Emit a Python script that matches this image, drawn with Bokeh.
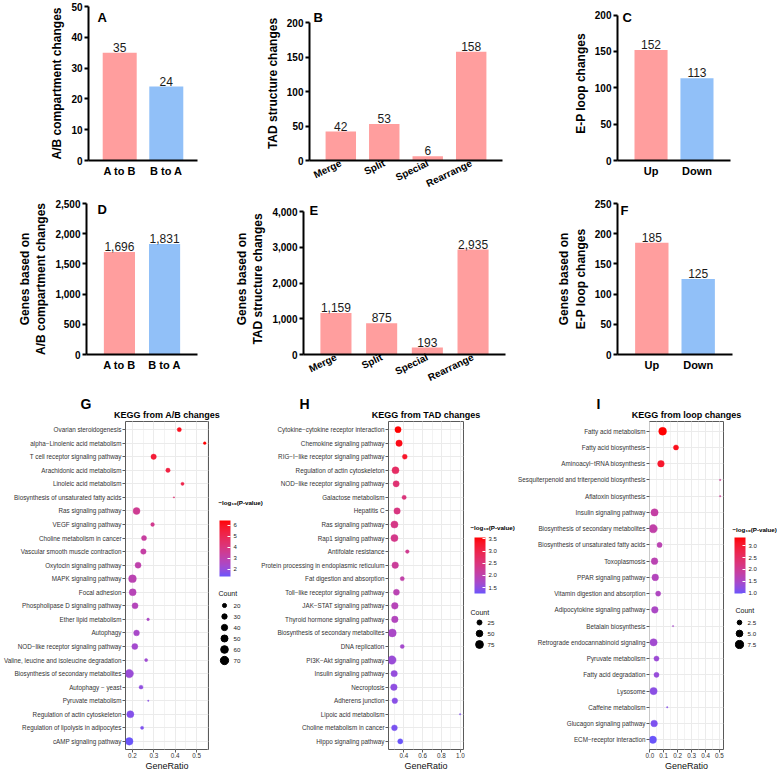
import numpy as np
from bokeh.plotting import figure
from bokeh.layouts import row, column
from bokeh.models import (ColumnDataSource, FactorRange, Range1d, ColorBar, GridBox,
                          LinearColorMapper, FixedTicker, SingleIntervalTicker,
                          NumeralTickFormatter, PrintfTickFormatter)
from bokeh.core.properties import value
from bokeh.embed import file_html
from bokeh.resources import INLINE

FONT = "Liberation Sans"
PINK = "#FF9E9E"
BLUE = "#91C0F8"

# ---------------- data: bar panels ----------------
ab_cats = ["A to B", "B to A"]
ab_compartments = [35, 24]
tad_cats = ["Merge", "Split", "Special", "Rearrange"]
tad_changes = [42, 53, 6, 158]
loop_cats = ["Up", "Down"]
loop_changes = [152, 113]
ab_genes = [1696, 1831]
tad_genes = [1159, 875, 193, 2935]
loop_genes = [185, 125]
panel_letters = ["A", "B", "C", "D", "E", "F"]

# ---------------- data: KEGG from A/B changes ----------------
g_terms = ["Ovarian steroidogenesis", "alpha\u2212Linolenic acid metabolism",
           "T cell receptor signaling pathway", "Arachidonic acid metabolism",
           "Linoleic acid metabolism", "Biosynthesis of unsaturated fatty acids",
           "Ras signaling pathway", "VEGF signaling pathway", "Choline metabolism in cancer",
           "Vascular smooth muscle contraction", "Oxytocin signaling pathway",
           "MAPK signaling pathway", "Focal adhesion", "Phospholipase D signaling pathway",
           "Ether lipid metabolism", "Autophagy", "NOD\u2212like receptor signaling pathway",
           "Valine, leucine and isoleucine degradation", "Biosynthesis of secondary metabolites",
           "Autophagy \u2212 yeast", "Pyruvate metabolism", "Regulation of actin cytoskeleton",
           "Regulation of lipolysis in adipocytes", "cAMP signaling pathway"]
g_ratio = [0.419, 0.538, 0.299, 0.366, 0.434, 0.394, 0.219, 0.294, 0.254, 0.251, 0.226, 0.200,
           0.201, 0.212, 0.273, 0.219, 0.211, 0.264, 0.185, 0.240, 0.274, 0.190, 0.245, 0.185]
g_count = [21, 13, 31, 22, 15, 11, 50, 18, 28, 32, 38, 62, 50, 38, 13, 35, 38, 15, 72, 19, 11, 52, 15, 58]
g_logp = [6.10, 6.45, 5.60, 5.40, 5.20, 4.30, 3.60, 3.70, 3.30, 3.20, 3.05, 2.90, 2.80, 2.70,
          2.50, 2.40, 2.30, 2.20, 2.10, 1.90, 1.80, 1.70, 1.60, 1.36]
g_color_ticks = [2, 3, 4, 5, 6]
g_count_breaks = [20, 30, 40, 50, 60, 70]

# ---------------- data: KEGG from TAD changes ----------------
h_terms = ["Cytokine\u2212cytokine receptor interaction", "Chemokine signaling pathway",
           "RIG\u2212I\u2212like receptor signaling pathway", "Regulation of actin cytoskeleton",
           "NOD\u2212like receptor signaling pathway", "Galactose metabolism", "Hepatitis C",
           "Ras signaling pathway", "Rap1 signaling pathway", "Antifolate resistance",
           "Protein processing in endoplasmic reticulum", "Fat digestion and absorption",
           "Toll\u2212like receptor signaling pathway", "JAK\u2212STAT signaling pathway",
           "Thyroid hormone signaling pathway", "Biosynthesis of secondary metabolites",
           "DNA replication", "PI3K\u2212Akt signaling pathway", "Insulin signaling pathway",
           "Necroptosis", "Adherens junction", "Lipoic acid metabolism",
           "Choline metabolism in cancer", "Hippo signaling pathway"]
h_ratio = [0.338, 0.349, 0.410, 0.311, 0.318, 0.403, 0.328, 0.300, 0.300, 0.437, 0.308, 0.383,
           0.321, 0.304, 0.304, 0.277, 0.383, 0.273, 0.297, 0.294, 0.304, 0.998, 0.300, 0.362]
h_count = [45, 48, 25, 60, 45, 18, 48, 62, 62, 12, 50, 17, 42, 52, 50, 80, 16, 90, 48, 50, 35, 3, 38, 28]
h_logp = [3.56, 3.45, 3.30, 2.75, 2.60, 2.50, 2.45, 2.40, 2.35, 2.30, 2.20, 2.05, 1.95, 1.90,
          1.85, 1.75, 1.70, 1.60, 1.55, 1.50, 1.45, 1.40, 1.35, 1.26]
h_color_ticks = [1.5, 2.0, 2.5, 3.0, 3.5]
h_count_breaks = [25, 50, 75]

# ---------------- data: KEGG from loop changes ----------------
i_terms = ["Fatty acid metabolism", "Fatty acid biosynthesis", "Aminoacyl\u2212tRNA biosynthesis",
           "Sesquiterpenoid and triterpenoid biosynthesis", "Aflatoxin biosynthesis",
           "Insulin signaling pathway", "Biosynthesis of secondary metabolites",
           "Biosynthesis of unsaturated fatty acids", "Toxoplasmosis", "PPAR signaling pathway",
           "Vitamin digestion and absorption", "Adipocytokine signaling pathway",
           "Betalain biosynthesis", "Retrograde endocannabinoid signaling", "Pyruvate metabolism",
           "Fatty acid degradation", "Lysosome", "Caffeine metabolism",
           "Glucagon signaling pathway", "ECM\u2212receptor interaction"]
i_ratio = [0.092, 0.188, 0.080, 0.505, 0.505, 0.034, 0.024, 0.070, 0.034, 0.039, 0.060, 0.036,
           0.167, 0.027, 0.048, 0.048, 0.027, 0.125, 0.031, 0.022]
i_count = [7, 3, 5, 1, 1, 6, 8, 3, 5, 5, 3, 5, 1, 6, 3, 3, 6, 1, 5, 6]
i_logp = [3.35, 3.20, 3.05, 2.00, 2.00, 1.85, 1.80, 1.70, 1.70, 1.60, 1.55, 1.50, 1.45, 1.40,
          1.35, 1.30, 1.20, 1.15, 1.10, 0.98]
i_color_ticks = [1.0, 1.5, 2.0, 2.5, 3.0]
i_count_breaks = [2.5, 5.0, 7.5]
kegg_letters = ["G", "H", "I"]
color_title = "\u2212log\u2081\u2080(P-value)"


# ---------------- colour gradient (Lab interpolation, like ggplot) ----------------
def _hex(h):
    return np.array([int(h[i:i + 2], 16) for i in (1, 3, 5)]) / 255.0

_M = np.array([[0.4124564, 0.3575761, 0.1804375],
               [0.2126729, 0.7151522, 0.0721750],
               [0.0193339, 0.1191920, 0.9503041]])
_Mi = np.linalg.inv(_M)
_WP = np.array([0.95047, 1.0, 1.08883])

def _lin(c):
    return np.where(c <= 0.04045, c / 12.92, ((c + 0.055) / 1.055) ** 2.4)

def _delin(c):
    c = np.clip(c, 0, 1)
    return np.where(c <= 0.0031308, 12.92 * c, 1.055 * np.power(c, 1 / 2.4) - 0.055)

def _f(t):
    d = 6 / 29
    return np.where(t > d ** 3, np.cbrt(t), t / (3 * d * d) + 4 / 29)

def _fi(t):
    d = 6 / 29
    return np.where(t > d, t ** 3, 3 * d * d * (t - 4 / 29))

def rgb2lab(rgb):
    xyz = _M @ _lin(rgb) / _WP
    fx, fy, fz = _f(xyz)
    return np.array([116 * fy - 16, 500 * (fx - fy), 200 * (fy - fz)])

def lab2hex(lab):
    L, a, b = lab
    fy = (L + 16) / 116
    xyz = _fi(np.array([fy + a / 500, fy, fy - b / 200])) * _WP
    rgb = _delin(_Mi @ xyz)
    return "#%02x%02x%02x" % tuple(int(round(v * 255)) for v in rgb)

LOW, HIGH = rgb2lab(_hex("#6A55FA")), rgb2lab(_hex("#FF0000"))
PAL = [lab2hex(LOW + (HIGH - LOW) * t) for t in np.linspace(0, 1, 256)]


def size_scale(vals, cmin, cmax, k=1.4):
    return [k * (1 + 5 * np.sqrt(max(0.0, (v - cmin) / (cmax - cmin)))) for v in vals]


# ---------------- bar panels ----------------
def bar_panel(cats, vals, colors, ylab, ymax, step, w, h, bl, br, ftop, fbot, ymax_px,
              pad, bw, rotate=False, comma=False):
    # frames of one row share top/bottom; the range end puts ymax at its pixel row
    fh = fbot - ftop
    yend = max(ymax, ymax * fh / (fbot - ymax_px))
    p = figure(width=w, height=h,
               x_range=FactorRange(factors=cats, range_padding=pad, range_padding_units="absolute"),
               y_range=Range1d(0, yend), output_backend="svg", toolbar_location=None,
               min_border_left=bl, min_border_right=br, min_border_top=ftop,
               min_border_bottom=h - fbot)
    src = ColumnDataSource(dict(x=cats, top=vals, color=colors, label=[f"{v:,}" for v in vals]))
    p.vbar(x="x", top="top", width=bw, fill_color="color", line_color=None, source=src)
    p.text(x="x", y="top", text="label", source=src, text_align="center", text_baseline="bottom",
           y_offset=-1, text_font=value(FONT), text_font_size="12px", text_color="#1a1a1a")
    p.outline_line_color = None
    p.grid.visible = False
    p.yaxis.ticker = SingleIntervalTicker(interval=step, num_minor_ticks=0)
    p.yaxis.bounds = (0, ymax)
    if comma:
        p.yaxis.formatter = NumeralTickFormatter(format="0,0")
    for ax in (p.xaxis[0], p.yaxis[0]):
        ax.axis_line_width = 2
        ax.axis_line_color = "black"
        ax.minor_tick_line_color = None
        ax.minor_tick_out = 0
        ax.minor_tick_in = 0
        ax.major_label_text_font = FONT
        ax.major_label_text_font_style = "bold"
        ax.major_label_text_color = "black"
    p.yaxis.major_tick_out = 4
    p.yaxis.major_tick_in = 0
    p.yaxis.major_tick_line_width = 2
    p.yaxis.major_tick_line_color = "black"
    p.yaxis.major_label_text_font_size = "10px"
    p.yaxis.major_label_standoff = 2
    p.yaxis.axis_label = ylab
    p.yaxis.axis_label_text_font = FONT
    p.yaxis.axis_label_text_font_style = "bold"
    p.yaxis.axis_label_text_font_size = "12px"
    p.yaxis.axis_label_text_color = "black"
    p.yaxis.axis_label_standoff = 4
    p.xaxis.major_tick_line_color = None
    p.xaxis.major_tick_out = 0
    p.xaxis.major_tick_in = 0
    if rotate:
        p.xaxis.major_label_orientation = 0.45
        p.xaxis.major_label_text_font_size = "10px"
        p.xaxis.major_label_standoff = 2
    else:
        p.xaxis.major_label_text_font_size = "11px"
        p.xaxis.major_label_standoff = 4
    return p


R1H, R2H, R3H = 196, 194, 383
R1T, R1B = 6, 162            # frame top / bottom inside row 1
R2T, R2B = 7, 158            # frame top / bottom inside row 2 (row starts at 196)

pA = bar_panel(ab_cats, ab_compartments, [PINK, BLUE], "A/B compartment changes", 50, 10,
               262, R1H, 88, 65, R1T, R1B, 5, 0.17, 0.73)
pB = bar_panel(tad_cats, tad_changes, [PINK] * 4, "TAD structure changes", 200, 50,
               258, R1H, 41, 18, R1T, R1B, 22.7, 0.22, 0.70, rotate=True)
pC = bar_panel(loop_cats, loop_changes, [PINK, BLUE], "E-P loop changes", 200, 50,
               257, R1H, 97, 47, R1T, R1B, 14.7, 0.23, 0.72)
pD = bar_panel(ab_cats, ab_genes, [PINK, BLUE], "Genes based on\nA/B compartment changes",
               2500, 500, 226, R2H, 86, 29, R2T, R2B, 6.7, 0.23, 0.69, comma=True)
pE = bar_panel(tad_cats, tad_genes, [PINK] * 4, "Genes based on\nTAD structure changes",
               4000, 1000, 294, R2H, 77, 15, R2T, R2B, 15, 0.21, 0.68, rotate=True, comma=True)
pF = bar_panel(loop_cats, loop_genes, [PINK, BLUE], "Genes based on\nE-P loop changes",
               250, 50, 257, R2H, 97, 45, R2T, R2B, 6, 0.24, 0.72)


# ---------------- dot panels ----------------
def dot_panel(terms, ratio, count, logp, title, w, bl, br, interval):
    lo, hi = min(ratio), max(ratio)
    sp = hi - lo
    p = figure(width=w, height=R3H,
               y_range=FactorRange(factors=terms[::-1], range_padding=0.1, range_padding_units="absolute"),
               x_range=Range1d(lo - 0.05 * sp, hi + 0.05 * sp), output_backend="svg",
               toolbar_location=None, title=title,
               min_border_left=bl, min_border_right=br, min_border_top=31, min_border_bottom=18)
    mapper = LinearColorMapper(palette=PAL, low=min(logp), high=max(logp))
    src = ColumnDataSource(dict(term=terms, ratio=ratio, logp=logp,
                                size=size_scale(count, min(count), max(count))))
    p.scatter(x="ratio", y="term", size="size", source=src,
              fill_color={"field": "logp", "transform": mapper},
              line_color={"field": "logp", "transform": mapper}, line_width=0.4)
    p.title.align = "center"
    p.title.text_font = FONT
    p.title.text_font_size = "9px"
    p.title.text_font_style = "bold"
    p.title.text_color = "black"
    p.title.standoff = 4
    p.outline_line_color = "#5A5A5A"
    p.outline_line_width = 1
    p.xaxis.ticker = SingleIntervalTicker(interval=interval, num_minor_ticks=2)
    p.xaxis.formatter = PrintfTickFormatter(format="%.1f")
    p.xgrid.grid_line_color = "#EBEBEB"
    p.xgrid.minor_grid_line_color = "#F3F3F3"
    p.ygrid.grid_line_color = "#EBEBEB"
    for ax in (p.xaxis[0], p.yaxis[0]):
        ax.axis_line_color = None
        ax.minor_tick_line_color = None
        ax.minor_tick_out = 0
        ax.minor_tick_in = 0
        ax.major_tick_out = 3
        ax.major_tick_in = 0
        ax.major_tick_line_color = "#333333"
        ax.major_tick_line_width = 0.8
        ax.major_label_text_font = FONT
        ax.major_label_text_font_size = "6.3px"
        ax.major_label_text_color = "#333333"
        ax.major_label_standoff = 1
    p.xaxis.major_label_standoff = 0
    p.xaxis.axis_label = "GeneRatio"
    p.xaxis.axis_label_text_font = FONT
    p.xaxis.axis_label_text_font_size = "9px"
    p.xaxis.axis_label_text_font_style = "normal"
    p.xaxis.axis_label_text_color = "#111111"
    p.xaxis.axis_label_standoff = 0
    return p, mapper


pG, mG = dot_panel(g_terms, g_ratio, g_count, g_logp, "KEGG from A/B changes", 258, 125, 50, 0.1)
pH, mH = dot_panel(h_terms, h_ratio, h_count, h_logp, "KEGG from TAD changes", 257, 126, 52, 0.2)
pI, mI = dot_panel(i_terms, i_ratio, i_count, i_logp, "KEGG from loop changes", 262, 134, 54, 0.1)

main = column(row(pA, pB, pC), row(pD, pE, pF), row(pG, pH, pI))

# ---------------- overlay: panel letters and the two legends of each KEGG panel ----------------
W, H = 777, 773
ov = figure(width=W, height=H, x_range=Range1d(0, W), y_range=Range1d(H, 0),
            x_axis_type=None, y_axis_type=None, min_border=0, toolbar_location=None,
            output_backend="svg", outline_line_color=None,
            background_fill_alpha=0, border_fill_alpha=0)

ov.text(x=[97, 313, 622, 97, 309, 620], y=[17.3, 17.3, 17.3, 208.5, 210, 210], text=panel_letters,
        text_baseline="alphabetic", text_font=value(FONT), text_font_style="bold",
        text_font_size="13px", text_color="black")
ov.text(x=[80, 299, 596], y=[403, 403.5, 403.5], text=kegg_letters, text_baseline="alphabetic",
        text_font=value(FONT), text_font_style="bold", text_font_size="14px", text_color="black")


def add_legend(mapper, ticks, fmt, breaks, bfmt, cmin, cmax, title_x, title_y, bar_x, bar_bottom,
               ctitle_x, ctitle_y, dot_x, lab_x, entry0):
    cb = ColorBar(color_mapper=mapper, ticker=FixedTicker(ticks=ticks),
                  formatter=PrintfTickFormatter(format=fmt), width=11, height=56,
                  location=(bar_x, H - bar_bottom), padding=0, margin=0, title=None,
                  major_label_text_font=FONT, major_label_text_font_size="6px",
                  major_label_text_color="#222222", label_standoff=3,
                  major_tick_line_color="white", major_tick_in=3, major_tick_out=0,
                  bar_line_color=None, background_fill_alpha=0, border_line_color=None)
    ov.add_layout(cb, "center")
    ov.text(x=[title_x], y=[title_y], text=[color_title], text_baseline="middle",
            text_font=value(FONT), text_font_size="6.2px", text_font_style="bold",
            text_color="black")
    n = len(breaks)
    ys = [entry0 + 11 * i for i in range(n)]
    ov.scatter(x=[dot_x] * n, y=ys, size=size_scale(breaks, cmin, cmax), color="black")
    ov.text(x=[lab_x] * n, y=ys, text=[bfmt % b for b in breaks], text_baseline="middle",
            text_font=value(FONT), text_font_size="6.2px", text_color="#222222")
    ov.text(x=[ctitle_x], y=[ctitle_y], text=["Count"], text_baseline="middle",
            text_font=value(FONT), text_font_size="7px", text_color="#111111")


add_legend(mG, g_color_ticks, "%d", g_count_breaks, "%d", min(g_count), max(g_count),
           218, 502, 219, 576, 218, 593, 224, 233, 605)
add_legend(mH, h_color_ticks, "%.1f", h_count_breaks, "%d", min(h_count), max(h_count),
           470, 527, 474, 593, 470, 612, 479, 487, 622)
add_legend(mI, i_color_ticks, "%.1f", i_count_breaks, "%.1f", min(i_count), max(i_count),
           732, 529, 734, 593, 735, 610, 739, 747, 622)

layout = GridBox(children=[(main, 0, 0), (ov, 0, 0)])
open("out.html", "w").write(file_html(layout, INLINE))
